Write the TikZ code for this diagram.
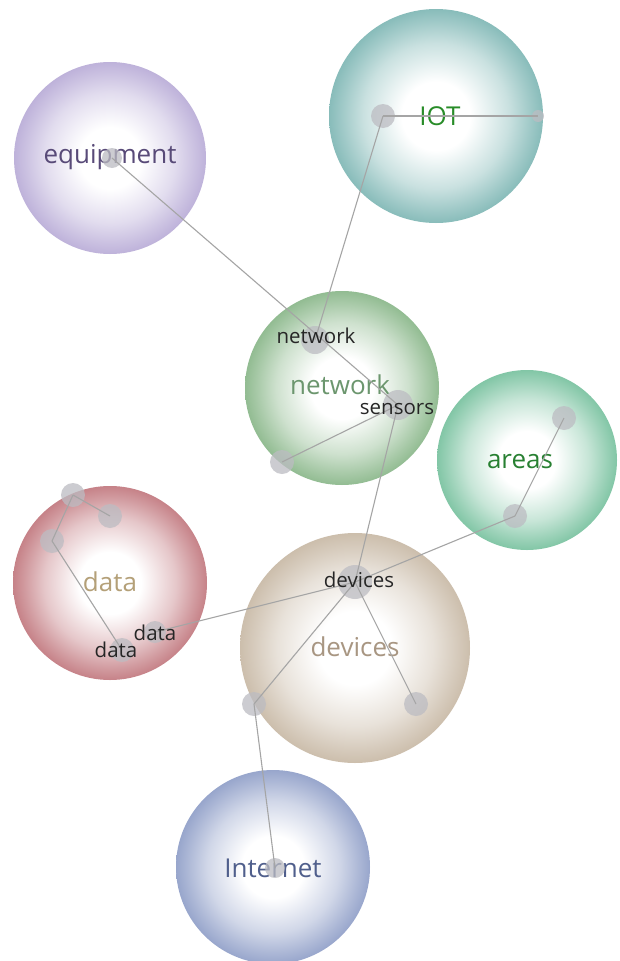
\documentclass[tikz,border=0pt]{standalone}
\usepackage{fontspec}
\setmainfont{Open Sans}
\definecolor{eqc}{RGB}{190,178,218}
\definecolor{iotc}{RGB}{136,188,186}
\definecolor{netc}{RGB}{146,188,146}
\definecolor{arc}{RGB}{130,198,166}
\definecolor{datc}{RGB}{198,130,136}
\definecolor{devc}{RGB}{204,190,172}
\definecolor{intc}{RGB}{152,166,204}
\newcommand{\mksph}[2]{\pgfdeclareradialshading{#1}{\pgfpoint{0bp}{0bp}}{color(0bp)=(white); color(8bp)=(white); color(17bp)=(#2!45!white); color(22bp)=(#2!80!white); color(25bp)=(#2); color(50bp)=(#2)}}
\mksph{sph-eq}{eqc}
\mksph{sph-iot}{iotc}
\mksph{sph-net}{netc}
\mksph{sph-ar}{arc}
\mksph{sph-dat}{datc}
\mksph{sph-dev}{devc}
\mksph{sph-int}{intc}
\tikzset{
  sphere/.style={circle, inner sep=0pt, minimum size=#1, shade},
  biglabel/.style={font=\fontsize{26}{30}\selectfont, inner sep=0pt},
  smalllabel/.style={font=\fontsize{20.5}{24}\selectfont, text=black!85, inner sep=0pt},
  dot/.style={circle, inner sep=0pt, minimum size=#1, fill={rgb,255:red,188;green,188;blue,194}, fill opacity=0.75},
  link/.style={draw={rgb,255:red,165;green,165;blue,165}, line width=1.1pt}
}
\begin{document}
\begin{tikzpicture}[x=1pt,y=-1pt]
\useasboundingbox[fill=white] (0,0) rectangle (619,961);
% spheres
\node[sphere=192, shading=sph-eq]  (Seq)  at (110,158) {};
\node[sphere=214, shading=sph-iot] (Siot) at (436,116) {};
\node[sphere=194, shading=sph-net] (Snet) at (342,388) {};
\node[sphere=180, shading=sph-ar]  (Sar)  at (527,460) {};
\node[sphere=194, shading=sph-dat] (Sdat) at (110,583) {};
\node[sphere=230, shading=sph-dev] (Sdev) at (355,648) {};
\node[sphere=194, shading=sph-int] (Sint) at (273,867) {};
% sphere labels
\node[biglabel, text={rgb,255:red,88;green,74;blue,120}]  (Leq)  at (110,157) {equipment};
\node[biglabel, text={rgb,255:red,40;green,140;blue,40}]  (Liot) at (440,116) {IOT};
\node[biglabel, text={rgb,255:red,108;green,150;blue,110}] (Lnet) at (340,385) {network};
\node[biglabel, text={rgb,255:red,40;green,128;blue,50}]  (Lar)  at (520,462) {areas};
\node[biglabel, text={rgb,255:red,180;green,160;blue,120}] (Ldat) at (110,582) {data};
\node[biglabel, text={rgb,255:red,168;green,150;blue,130}] (Ldev) at (355,647) {devices};
\node[biglabel, text={rgb,255:red,80;green,95;blue,140}]  (Lint) at (273,868) {Internet};
% dots
\node[dot=20] (deq)   at (112,158) {};
\node[dot=24] (diot)  at (383,116) {};
\node[dot=12] (diotr) at (538,116) {};
\node[dot=28] (dnet)  at (315,340) {};
\node[dot=30] (dsen)  at (398,405) {};
\node[dot=24] (dnll)  at (282,462) {};
\node[dot=24] (daru)  at (564,418) {};
\node[dot=24] (darl)  at (515,516) {};
\node[dot=34] (ddev)  at (355,582) {};
\node[dot=24] (ddevr) at (416,704) {};
\node[dot=24] (ddevl) at (254,704) {};
\node[dot=20] (dint)  at (275,868) {};
\node[dot=24] (dd1)   at (73,495) {};
\node[dot=24] (dd2)   at (110,516) {};
\node[dot=24] (dd3)   at (52,541) {};
\node[dot=24] (dd4)   at (122,650) {};
\node[dot=22] (dd5)   at (155,632) {};
% links
\draw[link] (deq.center) -- (dsen.center);
\draw[link] (diot.center) -- (dnet.center);
\draw[link] (diot.center) -- (diotr.center);
\draw[link] (dsen.center) -- (dnll.center);
\draw[link] (dsen.center) -- (ddev.center);
\draw[link] (ddev.center) -- (darl.center);
\draw[link] (darl.center) -- (daru.center);
\draw[link] (ddev.center) -- (dd5.center);
\draw[link] (ddev.center) -- (ddevr.center);
\draw[link] (ddev.center) -- (ddevl.center);
\draw[link] (ddevl.center) -- (dint.center);
\draw[link] (dd1.center) -- (dd2.center);
\draw[link] (dd1.center) -- (dd3.center);
\draw[link] (dd3.center) -- (dd4.center);
% small labels
\node[smalllabel] (tnet) at (316,336) {network};
\node[smalllabel] (tsen) at (397,409) {sensors};
\node[smalllabel] (tdev) at (359,580) {devices};
\node[smalllabel] (tdd5) at (155,633) {data};
\node[smalllabel] (tdd4) at (116,650) {data};
\end{tikzpicture}
\end{document}
